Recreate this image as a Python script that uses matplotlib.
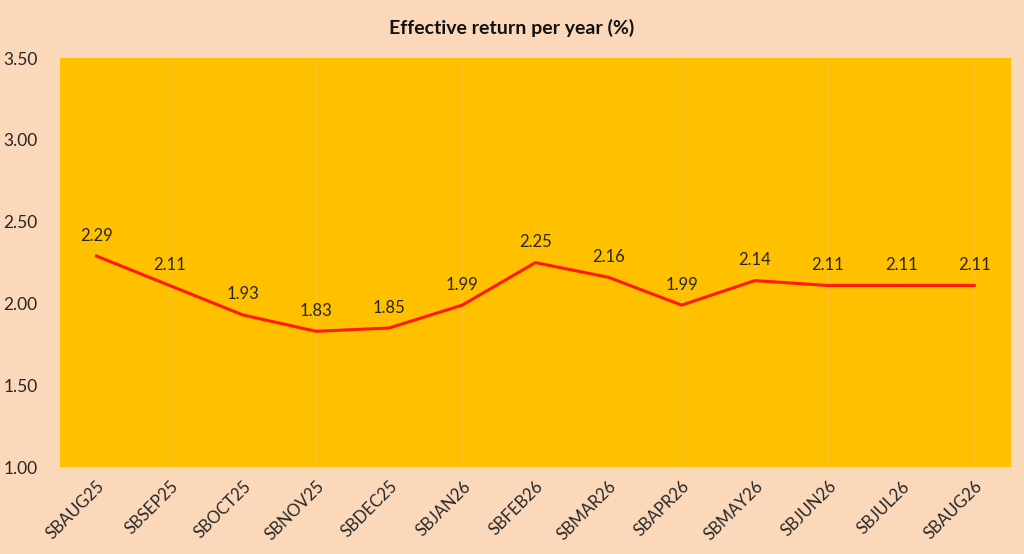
import matplotlib
matplotlib.use("Agg")
import matplotlib.pyplot as plt
import numpy as np

# series
bonds = ['SBAUG25', 'SBSEP25', 'SBOCT25', 'SBNOV25', 'SBDEC25', 'SBJAN26', 'SBFEB26',
         'SBMAR26', 'SBAPR26', 'SBMAY26', 'SBJUN26', 'SBJUL26', 'SBAUG26']
returns = [2.29, 2.11, 1.93, 1.83, 1.85, 1.99, 2.25, 2.16, 1.99, 2.14, 2.11, 2.11, 2.11]
y_ticks = [1.00, 1.50, 2.00, 2.50, 3.00, 3.50]

plt.rcParams['font.family'] = ['Lato', 'DejaVu Sans']

bg = '#FCD8BB'
plot_bg = '#FFC000'
text_col = '#262626'

fig = plt.figure(figsize=(10.24, 5.54), dpi=100, facecolor=bg)
ax = fig.add_axes([0.0586, 0.157, 0.9285, 0.738])
ax.set_facecolor(plot_bg)

x = np.arange(len(bonds))
ax.plot(x, returns, color='#FF1A00', linewidth=2.2, zorder=3)

for xi, v in zip(x, returns):
    ax.annotate(f'{v:.2f}', (xi, v), xytext=(0, 9), textcoords='offset points',
                ha='center', va='bottom', fontsize=12, color=text_col)

# faint vertical grid at each category
for xi in x:
    ax.axvline(xi, color='#F6C750', linewidth=0.7, alpha=0.6, zorder=1)

ax.set_xlim(-0.5, len(bonds) - 0.5)
ax.set_ylim(1.0, 3.5)
ax.set_yticks(y_ticks)
ax.set_yticklabels([f'{t:.2f}' for t in y_ticks], fontsize=12.5, color=text_col)
ax.set_xticks(x)
ax.set_xticklabels(bonds, rotation=45, ha='right', va='top', rotation_mode='anchor',
                   fontsize=12, color=text_col)
ax.tick_params(axis='both', length=0)
ax.tick_params(axis='y', pad=16)
ax.tick_params(axis='x', pad=8)
for s in ax.spines.values():
    s.set_visible(False)

fig.text(0.5, 0.95, 'Effective return per year (%)', ha='center', va='center',
         fontsize=14, fontweight='bold', color='#111111')

fig.savefig('out.png', dpi=100, facecolor=bg)
